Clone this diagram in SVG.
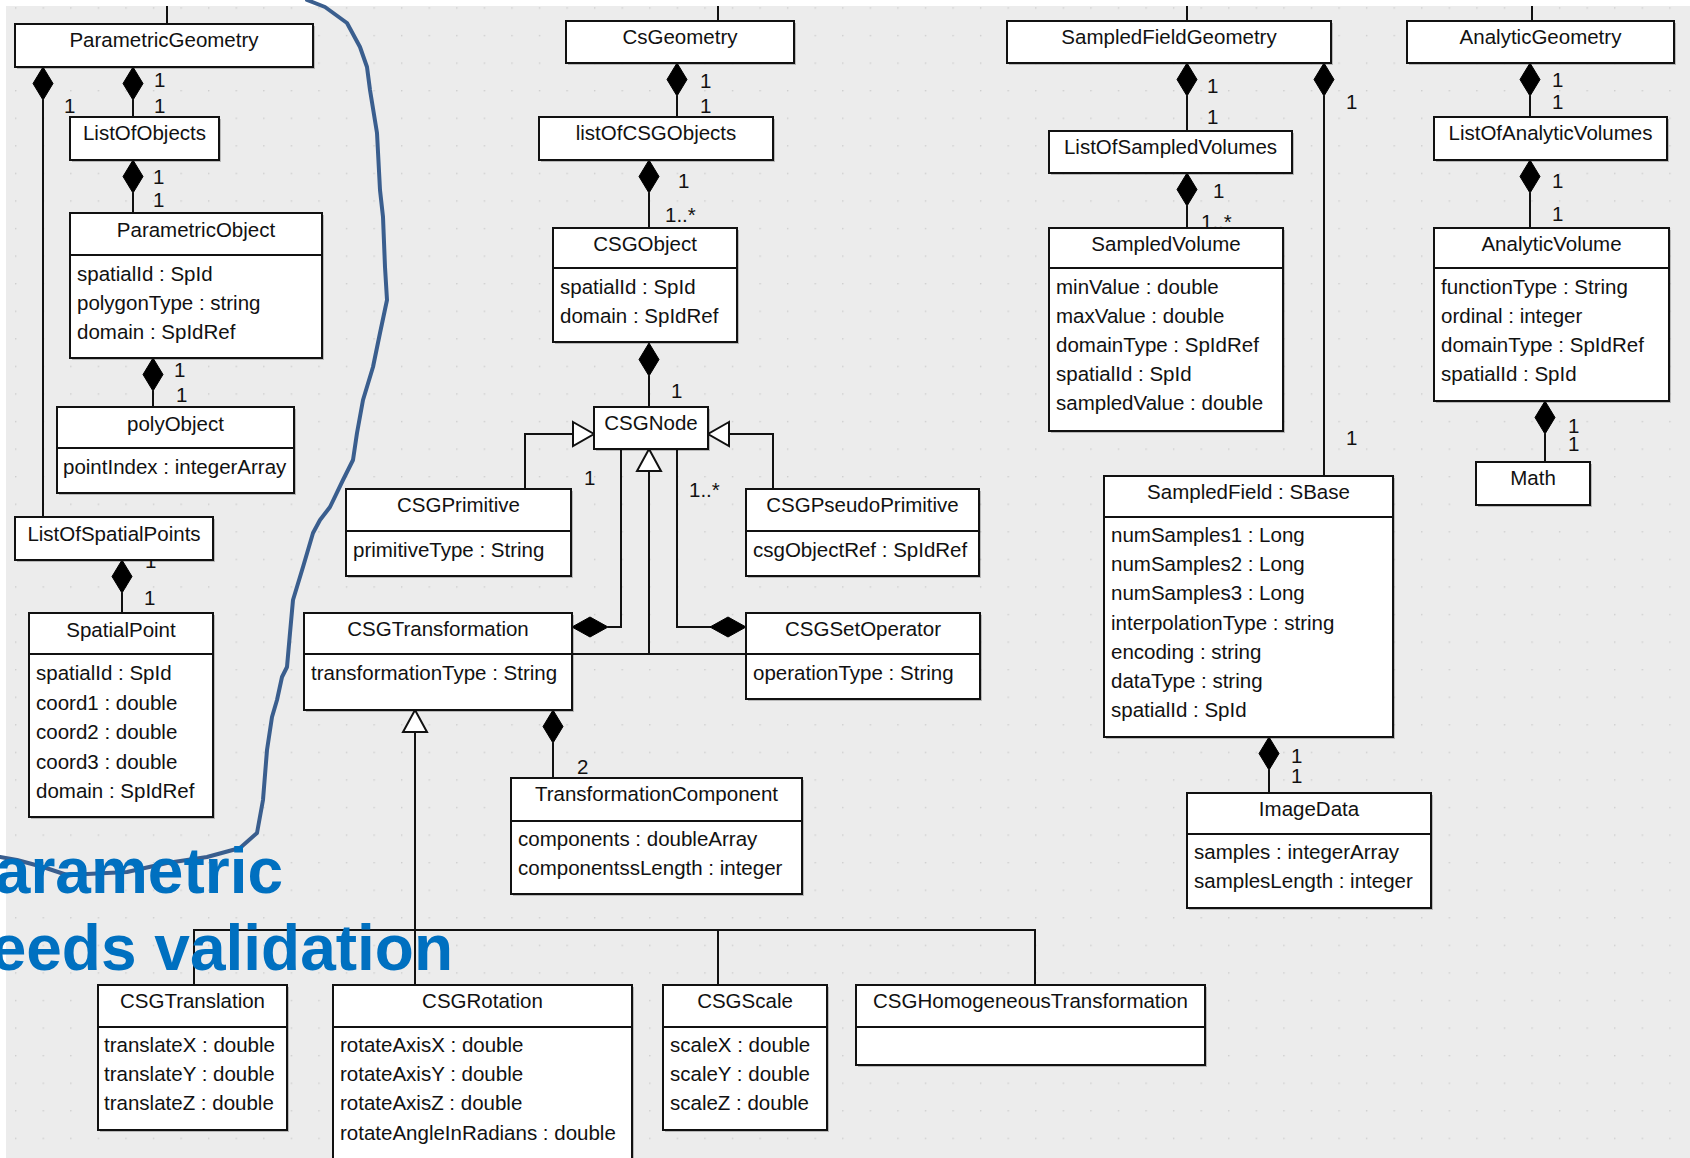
<svg xmlns="http://www.w3.org/2000/svg" xmlns:xlink="http://www.w3.org/1999/xlink" width="1690" height="1158" viewBox="0 0 1690 1158">
  <defs>
    <style>
      .box { fill: #ffffff; stroke: #111; stroke-width: 2; }
      .sh { fill: #000; opacity: 0.22; }
      .div { stroke: #111; stroke-width: 2; }
      .t { font-family: "Liberation Sans", Arial, sans-serif; font-size: 20.5px; fill: #111; }
      .c { text-anchor: middle; }
      .ln { fill: none; stroke: #111; stroke-width: 2; }
      .dia { fill: #000; stroke: #000; stroke-width: 1; }
      .tri { fill: #ffffff; stroke: #111; stroke-width: 2; }
      .note { font-family: "Liberation Sans", Arial, sans-serif; font-size: 64px; font-weight: bold; fill: #0070c0; text-anchor: end; }
      .pen { fill: none; stroke: #3a5e8e; stroke-width: 4; stroke-linejoin: round; stroke-linecap: round; }
    </style>
    <pattern id="grid" x="15" y="7.3" width="27.57" height="27.57" patternUnits="userSpaceOnUse">
      <rect x="-1" y="-1" width="2.4" height="2.4" fill="#cdcdcd"/>
    </pattern>
    <!-- filled composition diamonds -->
    <path id="dv" class="dia" d="M0,0 L10,16.5 L0,33 L-10,16.5 Z"/>
    <path id="dh" class="dia" d="M0,0 L18,-10 L36,0 L18,10 Z"/>
  </defs>

  <!-- canvas -->
  <rect x="0" y="0" width="1690" height="1158" fill="#ececec"/>
  <rect x="0" y="0" width="1690" height="1158" fill="url(#grid)"/>

  <!-- connectors -->
  <g id="connectors">
    <!-- stubs to parent classes above -->
    <path class="ln" d="M167,0 V24 M718,0 V21 M1187,0 V21 M1532,0 V21"/>

    <!-- ParametricGeometry compositions -->
    <path class="ln" d="M133,100 V117"/>
    <use xlink:href="#dv" x="133" y="67"/>
    <text class="t" x="154" y="87">1</text>
    <text class="t" x="154" y="113">1</text>
    <path class="ln" d="M43,100 V517"/>
    <use xlink:href="#dv" x="43" y="67"/>
    <text class="t" x="64" y="113">1</text>

    <path class="ln" d="M133,193 V213"/>
    <use xlink:href="#dv" x="133" y="160"/>
    <text class="t" x="153" y="184">1</text>
    <text class="t" x="153" y="207">1</text>

    <path class="ln" d="M153,391 V407"/>
    <use xlink:href="#dv" x="153" y="358"/>
    <text class="t" x="174" y="377">1</text>
    <text class="t" x="176" y="402">1</text>

    <path class="ln" d="M122,593 V613"/>
    <use xlink:href="#dv" x="122" y="560"/>
    <text class="t" x="145" y="568">1</text>
    <text class="t" x="144" y="605">1</text>

    <!-- CsGeometry compositions -->
    <path class="ln" d="M677,96 V117"/>
    <use xlink:href="#dv" x="677" y="63"/>
    <text class="t" x="700" y="88">1</text>
    <text class="t" x="700" y="113">1</text>

    <path class="ln" d="M649,193 V228"/>
    <use xlink:href="#dv" x="649" y="160"/>
    <text class="t" x="678" y="188">1</text>
    <text class="t" x="665" y="222">1..*</text>

    <path class="ln" d="M649,376 V407"/>
    <use xlink:href="#dv" x="649" y="343"/>
    <text class="t" x="671" y="398">1</text>

    <!-- CSGNode generalizations -->
    <path class="ln" d="M525,489 V434 H573"/>
    <path class="tri" d="M573,422 L594,434 L573,446 Z"/>
    <path class="ln" d="M773,489 V434 H729"/>
    <path class="tri" d="M729,422 L708,434 L729,446 Z"/>
    <path class="ln" d="M649,471 V654 M572,654 H746"/>
    <path class="tri" d="M649,449 L661,471 L637,471 Z"/>

    <!-- CSGNode children of the transformation and set operator -->
    <path class="ln" d="M621,449 V627 H608"/>
    <use xlink:href="#dh" x="572" y="627"/>
    <text class="t" x="584" y="485">1</text>
    <path class="ln" d="M677,449 V627 H711"/>
    <use xlink:href="#dh" x="710" y="627"/>
    <text class="t" x="689" y="497">1..*</text>

    <!-- CSGTransformation components -->
    <path class="ln" d="M553,743 V778"/>
    <use xlink:href="#dv" x="553" y="710"/>
    <text class="t" x="577" y="774">2</text>

    <!-- CSGTransformation specialisations -->
    <path class="ln" d="M415,732 V985 M194,985 V930 H1035 V985 M718,930 V985"/>
    <path class="tri" d="M415,710 L427,732 L403,732 Z"/>

    <!-- SampledFieldGeometry compositions -->
    <path class="ln" d="M1187,96 V131"/>
    <use xlink:href="#dv" x="1187" y="63"/>
    <text class="t" x="1207" y="93">1</text>
    <text class="t" x="1207" y="124">1</text>

    <path class="ln" d="M1324,96 V476"/>
    <use xlink:href="#dv" x="1324" y="63"/>
    <text class="t" x="1346" y="109">1</text>
    <text class="t" x="1346" y="445">1</text>

    <path class="ln" d="M1187,206 V228"/>
    <use xlink:href="#dv" x="1187" y="173"/>
    <text class="t" x="1213" y="198">1</text>
    <text class="t" x="1201" y="229">1..*</text>

    <path class="ln" d="M1269,770 V793"/>
    <use xlink:href="#dv" x="1269" y="737"/>
    <text class="t" x="1291" y="763">1</text>
    <text class="t" x="1291" y="783">1</text>

    <!-- AnalyticGeometry compositions -->
    <path class="ln" d="M1530,96 V117"/>
    <use xlink:href="#dv" x="1530" y="63"/>
    <text class="t" x="1552" y="87">1</text>
    <text class="t" x="1552" y="109">1</text>

    <path class="ln" d="M1530,193 V228"/>
    <use xlink:href="#dv" x="1530" y="160"/>
    <text class="t" x="1552" y="188">1</text>
    <text class="t" x="1552" y="221">1</text>

    <path class="ln" d="M1545,434 V462"/>
    <use xlink:href="#dv" x="1545" y="401"/>
    <text class="t" x="1568" y="433">1</text>
    <text class="t" x="1568" y="451">1</text>
  </g>

  <!-- classes -->
  <g id="ParametricGeometry">
    <rect class="sh" x="17" y="26" width="298" height="43"/>
    <rect class="box" x="15" y="24" width="298" height="43"/>
    <text class="t c" x="164" y="47">ParametricGeometry</text>
  </g>
  <g id="ListOfObjects">
    <rect class="sh" x="72" y="119" width="149" height="43"/>
    <rect class="box" x="70" y="117" width="149" height="43"/>
    <text class="t c" x="144.5" y="140">ListOfObjects</text>
  </g>
  <g id="ParametricObject">
    <rect class="sh" x="72" y="215" width="252" height="145"/>
    <rect class="box" x="70" y="213" width="252" height="145"/>
    <line class="div" x1="70" y1="255" x2="322" y2="255"/>
    <text class="t c" x="196" y="237">ParametricObject</text>
    <text class="t" x="77" y="281">spatialId : SpId</text>
    <text class="t" x="77" y="310">polygonType : string</text>
    <text class="t" x="77" y="339">domain : SpIdRef</text>
  </g>
  <g id="polyObject">
    <rect class="sh" x="59" y="409" width="237" height="86"/>
    <rect class="box" x="57" y="407" width="237" height="86"/>
    <line class="div" x1="57" y1="448" x2="294" y2="448"/>
    <text class="t c" x="175.5" y="431">polyObject</text>
    <text class="t" x="63" y="474">pointIndex : integerArray</text>
  </g>
  <g id="ListOfSpatialPoints">
    <rect class="sh" x="17" y="519" width="198" height="43"/>
    <rect class="box" x="15" y="517" width="198" height="43"/>
    <text class="t c" x="114" y="541">ListOfSpatialPoints</text>
  </g>
  <g id="SpatialPoint">
    <rect class="sh" x="31" y="615" width="184" height="204"/>
    <rect class="box" x="29" y="613" width="184" height="204"/>
    <line class="div" x1="29" y1="654" x2="213" y2="654"/>
    <text class="t c" x="121" y="637">SpatialPoint</text>
    <text class="t" x="36" y="680">spatialId : SpId</text>
    <text class="t" x="36" y="710">coord1 : double</text>
    <text class="t" x="36" y="739">coord2 : double</text>
    <text class="t" x="36" y="769">coord3 : double</text>
    <text class="t" x="36" y="798">domain : SpIdRef</text>
  </g>

  <g id="CsGeometry">
    <rect class="sh" x="568" y="23" width="228" height="42"/>
    <rect class="box" x="566" y="21" width="228" height="42"/>
    <text class="t c" x="680" y="44">CsGeometry</text>
  </g>
  <g id="listOfCSGObjects">
    <rect class="sh" x="541" y="119" width="234" height="43"/>
    <rect class="box" x="539" y="117" width="234" height="43"/>
    <text class="t c" x="656" y="140">listOfCSGObjects</text>
  </g>
  <g id="CSGObject">
    <rect class="sh" x="555" y="230" width="184" height="114"/>
    <rect class="box" x="553" y="228" width="184" height="114"/>
    <line class="div" x1="553" y1="268" x2="737" y2="268"/>
    <text class="t c" x="645" y="251">CSGObject</text>
    <text class="t" x="560" y="294">spatialId : SpId</text>
    <text class="t" x="560" y="323">domain : SpIdRef</text>
  </g>
  <g id="CSGNode">
    <rect class="sh" x="596" y="409" width="114" height="42"/>
    <rect class="box" x="594" y="407" width="114" height="42"/>
    <text class="t c" x="651" y="430">CSGNode</text>
  </g>
  <g id="CSGPrimitive">
    <rect class="sh" x="348" y="491" width="225" height="87"/>
    <rect class="box" x="346" y="489" width="225" height="87"/>
    <line class="div" x1="346" y1="531" x2="571" y2="531"/>
    <text class="t c" x="458.5" y="512">CSGPrimitive</text>
    <text class="t" x="353" y="557">primitiveType : String</text>
  </g>
  <g id="CSGPseudoPrimitive">
    <rect class="sh" x="748" y="491" width="233" height="87"/>
    <rect class="box" x="746" y="489" width="233" height="87"/>
    <line class="div" x1="746" y1="531" x2="979" y2="531"/>
    <text class="t c" x="862.5" y="512">CSGPseudoPrimitive</text>
    <text class="t" x="753" y="557">csgObjectRef : SpIdRef</text>
  </g>
  <g id="CSGTransformation">
    <rect class="sh" x="306" y="615" width="268" height="97"/>
    <rect class="box" x="304" y="613" width="268" height="97"/>
    <line class="div" x1="304" y1="654" x2="572" y2="654"/>
    <text class="t c" x="438" y="636">CSGTransformation</text>
    <text class="t" x="311" y="680">transformationType : String</text>
  </g>
  <g id="CSGSetOperator">
    <rect class="sh" x="748" y="615" width="234" height="86"/>
    <rect class="box" x="746" y="613" width="234" height="86"/>
    <line class="div" x1="746" y1="654" x2="980" y2="654"/>
    <text class="t c" x="863" y="636">CSGSetOperator</text>
    <text class="t" x="753" y="680">operationType : String</text>
  </g>
  <g id="TransformationComponent">
    <rect class="sh" x="513" y="780" width="291" height="116"/>
    <rect class="box" x="511" y="778" width="291" height="116"/>
    <line class="div" x1="511" y1="821" x2="802" y2="821"/>
    <text class="t c" x="656.5" y="801">TransformationComponent</text>
    <text class="t" x="518" y="846">components : doubleArray</text>
    <text class="t" x="518" y="875">componentssLength : integer</text>
  </g>
  <g id="CSGTranslation">
    <rect class="sh" x="100" y="987" width="189" height="145"/>
    <rect class="box" x="98" y="985" width="189" height="145"/>
    <line class="div" x1="98" y1="1027" x2="287" y2="1027"/>
    <text class="t c" x="192.5" y="1008">CSGTranslation</text>
    <text class="t" x="104" y="1052">translateX : double</text>
    <text class="t" x="104" y="1081">translateY : double</text>
    <text class="t" x="104" y="1110">translateZ : double</text>
  </g>
  <g id="CSGRotation">
    <rect class="sh" x="335" y="987" width="299" height="200"/>
    <rect class="box" x="333" y="985" width="299" height="200"/>
    <line class="div" x1="333" y1="1027" x2="632" y2="1027"/>
    <text class="t c" x="482.5" y="1008">CSGRotation</text>
    <text class="t" x="340" y="1052">rotateAxisX : double</text>
    <text class="t" x="340" y="1081">rotateAxisY : double</text>
    <text class="t" x="340" y="1110">rotateAxisZ : double</text>
    <text class="t" x="340" y="1140">rotateAngleInRadians : double</text>
  </g>
  <g id="CSGScale">
    <rect class="sh" x="665" y="987" width="164" height="145"/>
    <rect class="box" x="663" y="985" width="164" height="145"/>
    <line class="div" x1="663" y1="1027" x2="827" y2="1027"/>
    <text class="t c" x="745" y="1008">CSGScale</text>
    <text class="t" x="670" y="1052">scaleX : double</text>
    <text class="t" x="670" y="1081">scaleY : double</text>
    <text class="t" x="670" y="1110">scaleZ : double</text>
  </g>
  <g id="CSGHomogeneousTransformation">
    <rect class="sh" x="858" y="987" width="349" height="80"/>
    <rect class="box" x="856" y="985" width="349" height="80"/>
    <line class="div" x1="856" y1="1027" x2="1205" y2="1027"/>
    <text class="t c" x="1030.5" y="1008">CSGHomogeneousTransformation</text>
  </g>

  <g id="SampledFieldGeometry">
    <rect class="sh" x="1009" y="23" width="324" height="42"/>
    <rect class="box" x="1007" y="21" width="324" height="42"/>
    <text class="t c" x="1169" y="44">SampledFieldGeometry</text>
  </g>
  <g id="ListOfSampledVolumes">
    <rect class="sh" x="1051" y="133" width="243" height="42"/>
    <rect class="box" x="1049" y="131" width="243" height="42"/>
    <text class="t c" x="1170.5" y="154">ListOfSampledVolumes</text>
  </g>
  <g id="SampledVolume">
    <rect class="sh" x="1051" y="230" width="234" height="203"/>
    <rect class="box" x="1049" y="228" width="234" height="203"/>
    <line class="div" x1="1049" y1="268" x2="1283" y2="268"/>
    <text class="t c" x="1166" y="251">SampledVolume</text>
    <text class="t" x="1056" y="294">minValue : double</text>
    <text class="t" x="1056" y="323">maxValue : double</text>
    <text class="t" x="1056" y="352">domainType : SpIdRef</text>
    <text class="t" x="1056" y="381">spatialId : SpId</text>
    <text class="t" x="1056" y="410">sampledValue : double</text>
  </g>
  <g id="SampledField">
    <rect class="sh" x="1106" y="478" width="289" height="261"/>
    <rect class="box" x="1104" y="476" width="289" height="261"/>
    <line class="div" x1="1104" y1="517" x2="1393" y2="517"/>
    <text class="t c" x="1248.5" y="499">SampledField : SBase</text>
    <text class="t" x="1111" y="542">numSamples1 : Long</text>
    <text class="t" x="1111" y="571">numSamples2 : Long</text>
    <text class="t" x="1111" y="600">numSamples3 : Long</text>
    <text class="t" x="1111" y="630">interpolationType : string</text>
    <text class="t" x="1111" y="659">encoding : string</text>
    <text class="t" x="1111" y="688">dataType : string</text>
    <text class="t" x="1111" y="717">spatialId : SpId</text>
  </g>
  <g id="ImageData">
    <rect class="sh" x="1189" y="795" width="244" height="115"/>
    <rect class="box" x="1187" y="793" width="244" height="115"/>
    <line class="div" x1="1187" y1="834" x2="1431" y2="834"/>
    <text class="t c" x="1309" y="816">ImageData</text>
    <text class="t" x="1194" y="859">samples : integerArray</text>
    <text class="t" x="1194" y="888">samplesLength : integer</text>
  </g>

  <g id="AnalyticGeometry">
    <rect class="sh" x="1409" y="23" width="267" height="42"/>
    <rect class="box" x="1407" y="21" width="267" height="42"/>
    <text class="t c" x="1540.5" y="44">AnalyticGeometry</text>
  </g>
  <g id="ListOfAnalyticVolumes">
    <rect class="sh" x="1436" y="119" width="233" height="43"/>
    <rect class="box" x="1434" y="117" width="233" height="43"/>
    <text class="t c" x="1550.5" y="140">ListOfAnalyticVolumes</text>
  </g>
  <g id="AnalyticVolume">
    <rect class="sh" x="1436" y="230" width="235" height="173"/>
    <rect class="box" x="1434" y="228" width="235" height="173"/>
    <line class="div" x1="1434" y1="268" x2="1669" y2="268"/>
    <text class="t c" x="1551.5" y="251">AnalyticVolume</text>
    <text class="t" x="1441" y="294">functionType : String</text>
    <text class="t" x="1441" y="323">ordinal : integer</text>
    <text class="t" x="1441" y="352">domainType : SpIdRef</text>
    <text class="t" x="1441" y="381">spatialId : SpId</text>
  </g>
  <g id="Math">
    <rect class="sh" x="1478" y="464" width="114" height="43"/>
    <rect class="box" x="1476" y="462" width="114" height="43"/>
    <text class="t c" x="1533" y="485">Math</text>
  </g>

  <!-- page margins -->
  <rect x="0" y="0" width="1690" height="6" fill="#ffffff"/>
  <rect x="0" y="0" width="6" height="1158" fill="#ffffff"/>

  <!-- hand-drawn annotation -->
  <g id="annotation">
    <polyline class="pen" points="307,0 325,7 347,23 360,47 367,67 370,90 377,133 380,190 383,217 385,267 387,300 380,333 373,367 363,400 357,433 353,460 343,480 330,507 320,520 313,533 303,567 293,600 290,633 287,667 282,677 277,700 272,717 267,750 263,800 257,833 240,848 207,857 167,863 127,872 67,875 43,867 17,860 0,857"/>
    <text class="note" x="283" y="893">arametric</text>
    <text class="note" x="453" y="970">eeds validation</text>
  </g>
</svg>
